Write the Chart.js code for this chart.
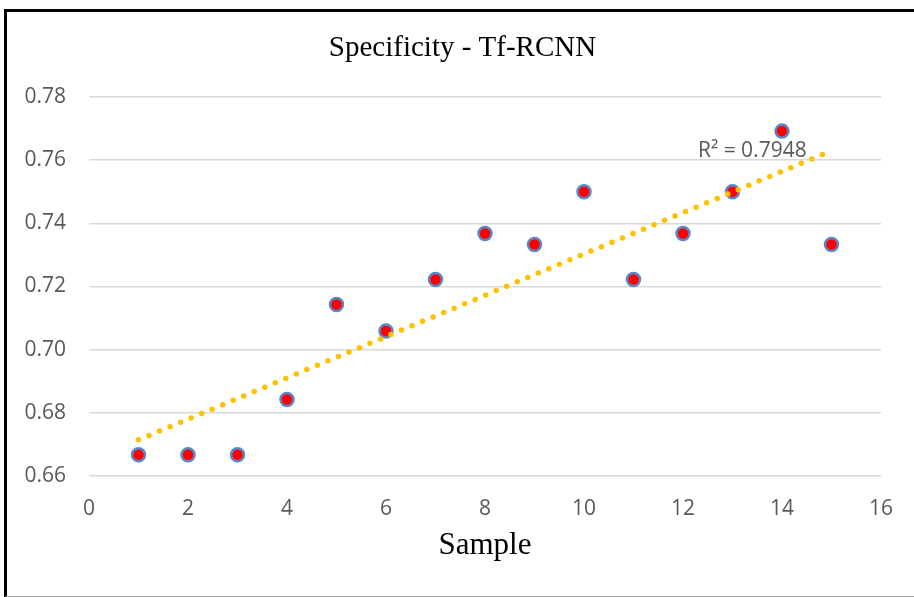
<!DOCTYPE html>
<html>
<head>
<meta charset="utf-8">
<title>Specificity - Tf-RCNN</title>
<script src="https://cdn.jsdelivr.net/npm/chart.js@4.4.0/dist/chart.umd.min.js"></script>
<style>
  html, body { margin: 0; padding: 0; background: #fff; }
  body { width: 914px; height: 597px; position: relative; overflow: hidden; }
  #frame {
    position: absolute; left: 4px; top: 9px; width: 910px; height: 588px;
    box-sizing: border-box;
    border-top: 3px solid #000; border-left: 3px solid #000; border-bottom: 1px solid #a6a6a6;
  }
  #wrap { position: absolute; left: 0; top: 0; width: 914px; height: 597px; }
</style>
</head>
<body>
<div id="frame"></div>
<div id="wrap"><canvas id="chart"></canvas></div>
<script>
// Values
const sampleIds = [1, 2, 3, 4, 5, 6, 7, 8, 9, 10, 11, 12, 13, 14, 15];
const specificity = [0.6667, 0.6667, 0.6667, 0.6842, 0.7143, 0.7059, 0.7222, 0.7368,
                     0.7333, 0.7500, 0.7222, 0.7368, 0.7500, 0.7692, 0.7333];
const xTickValues = [0, 2, 4, 6, 8, 10, 12, 14, 16];
const yTickValues = [0.66, 0.68, 0.70, 0.72, 0.74, 0.76, 0.78];
const chartTitle = 'Specificity - Tf-RCNN';
const r2Text = 'R\u00B2 = 0.7948';

// Linear trendline (least squares) through the points
function linearFit(xs, ys) {
    const n = xs.length;
    const mx = xs.reduce((a, b) => a + b, 0) / n;
    const my = ys.reduce((a, b) => a + b, 0) / n;
    let sxy = 0, sxx = 0;
    xs.forEach((x, i) => {
        sxy += (x - mx) * (ys[i] - my);
        sxx += (x - mx) * (x - mx);
    });
    const slope = sxy / sxx;
    return { slope: slope, intercept: my - slope * mx };
}

const fit = linearFit(sampleIds, specificity);
const xFirst = sampleIds[0];
const xLast = sampleIds[sampleIds.length - 1];
const trendPoints = [
    { x: xFirst, y: fit.intercept + fit.slope * xFirst },
    { x: xLast, y: fit.intercept + fit.slope * xLast }
];

// Title is centred on the whole frame, not on the plot area
const frameTitle = {
    id: 'frameTitle',
    afterDraw(chart) {
        const ctx = chart.ctx;
        ctx.save();
        ctx.font = '29px "Liberation Serif"';
        ctx.fillStyle = '#000';
        ctx.textAlign = 'center';
        ctx.textBaseline = 'middle';
        ctx.fillText(chartTitle, 462.5, 48);
        ctx.restore();
    }
};

// R² text next to the end of the trendline
const r2Label = {
    id: 'r2Label',
    afterDatasetsDraw(chart) {
        const { ctx, scales: { x, y } } = chart;
        ctx.save();
        ctx.font = '21px "Open Sans"';
        ctx.fillStyle = '#595959';
        ctx.textAlign = 'center';
        ctx.textBaseline = 'middle';
        ctx.fillText(r2Text, x.getPixelForValue(13.4), y.getPixelForValue(0.7628));
        ctx.restore();
    }
};

const tickFont = { family: '"Open Sans"', size: 21 };

new Chart(document.getElementById('chart'), {
    type: 'scatter',
    data: {
        datasets: [
            {
                type: 'line',
                label: 'Trend',
                data: trendPoints,
                borderColor: '#FFC000',
                borderWidth: 5.5,
                borderDash: [0, 11.4],
                borderCapStyle: 'round',
                pointRadius: 0,
                fill: false,
                order: 0
            },
            {
                label: 'Specificity',
                data: sampleIds.map((s, i) => ({ x: s, y: specificity[i] })),
                backgroundColor: '#FF0000',
                borderColor: '#5B87C5',
                borderWidth: 2.5,
                pointRadius: 6.5,
                order: 1
            }
        ]
    },
    options: {
        responsive: true,
        maintainAspectRatio: false,
        animation: false,
        layout: { padding: { left: 8, right: 33, top: 97, bottom: 0 } },
        plugins: {
            legend: { display: false },
            tooltip: { enabled: false },
            title: { display: false }
        },
        scales: {
            x: {
                type: 'linear',
                min: xTickValues[0],
                max: xTickValues[xTickValues.length - 1],
                afterBuildTicks: s => { s.ticks = xTickValues.map(v => ({ value: v })); },
                afterFit: s => { s.height = 121; },
                grid: { display: false, drawTicks: false },
                border: { display: false },
                ticks: { color: '#595959', font: tickFont, padding: 20, maxRotation: 0 },
                title: {
                    display: true,
                    text: 'Sample',
                    color: '#000',
                    font: { family: '"Liberation Serif"', size: 31 },
                    padding: { top: 0, bottom: 33 }
                }
            },
            y: {
                type: 'linear',
                min: yTickValues[0],
                max: yTickValues[yTickValues.length - 1],
                afterBuildTicks: s => { s.ticks = yTickValues.map(v => ({ value: v })); },
                afterFit: s => { s.width = 81; },
                grid: { color: '#D9D9D9', lineWidth: 1.5, drawTicks: false },
                border: { display: false },
                ticks: {
                    color: '#595959',
                    font: tickFont,
                    padding: 23,
                    callback: v => v.toFixed(2)
                }
            }
        }
    },
    plugins: [r2Label, frameTitle]
});
</script>
</body>
</html>
